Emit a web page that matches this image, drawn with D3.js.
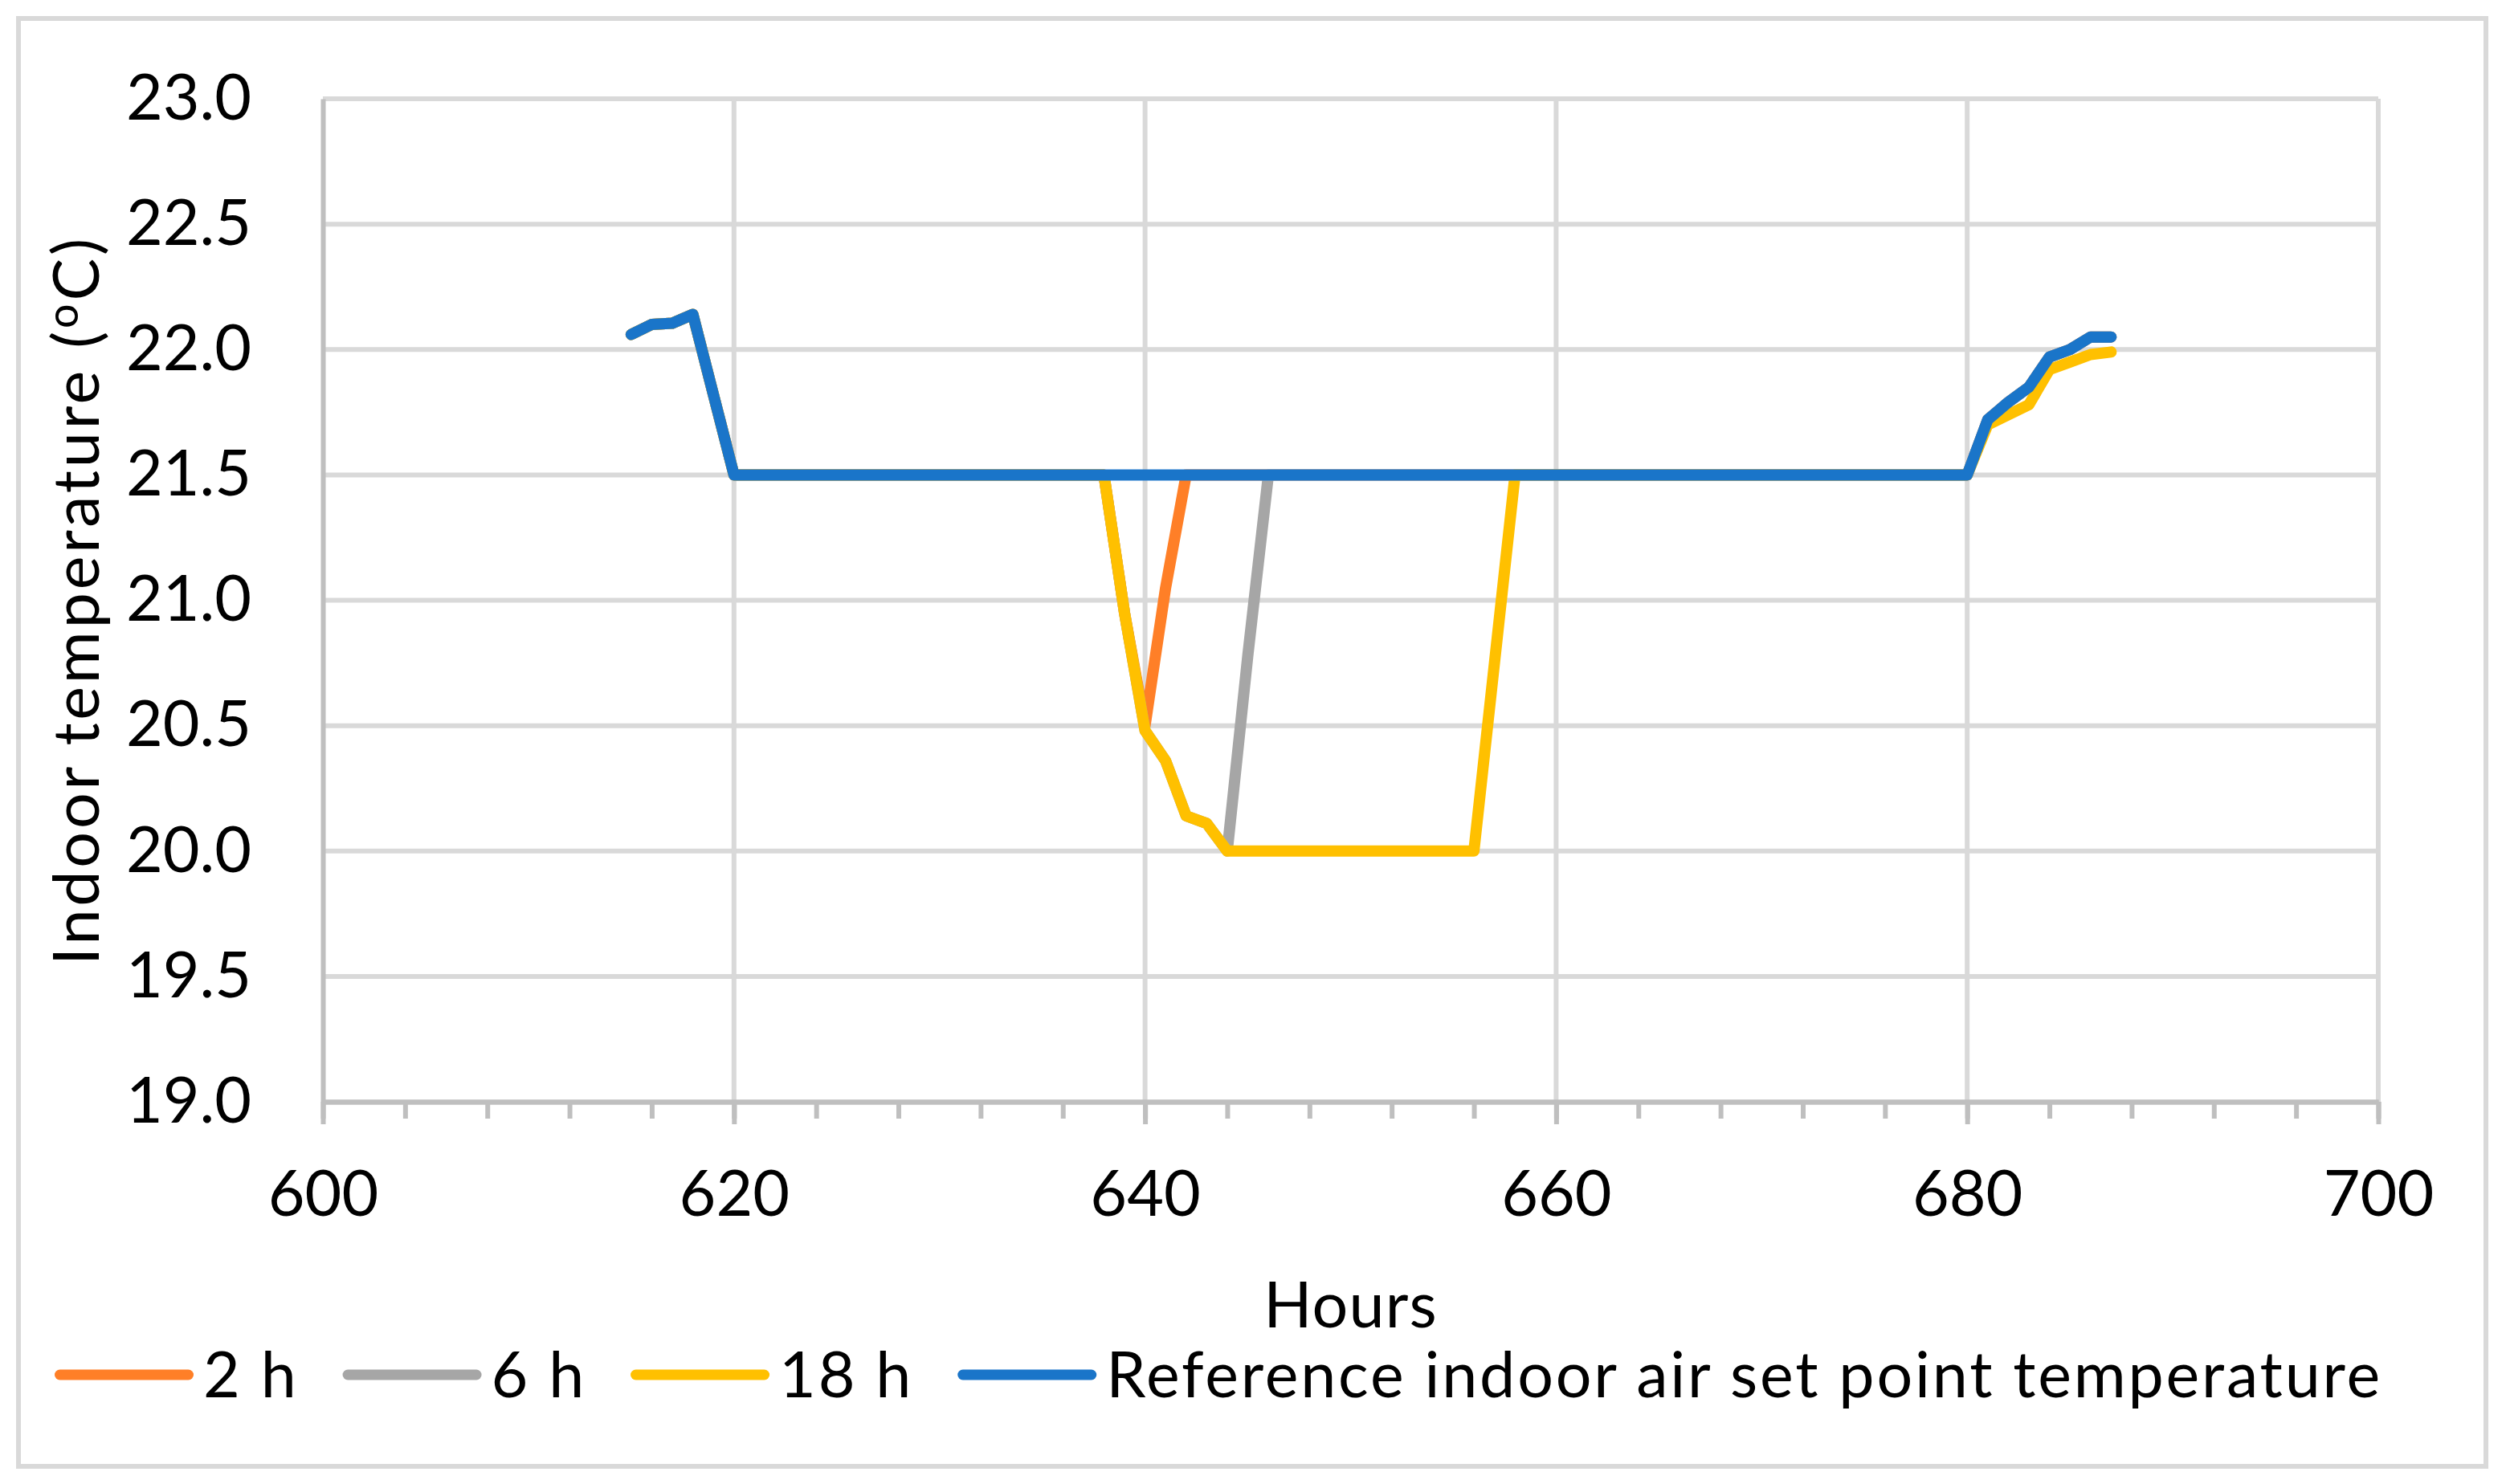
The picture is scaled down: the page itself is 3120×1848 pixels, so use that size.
<!DOCTYPE html>
<html>
<head>
<meta charset="utf-8">
<script src="https://cdn.jsdelivr.net/npm/d3@7"></script>
<style>
    html, body { margin: 0; padding: 0; background: #fff; }
    svg { display: block; }
    text { font-family: Lato, "Open Sans", sans-serif; fill: #000; }
</style>
</head>
<body>
<svg id="chart" width="3120" height="1848"></svg>
<script>

// hourly samples, 615 .. 687
const hours = [
    615, 616, 617, 618, 619,
    620, 621, 622, 623, 624, 625, 626, 627, 628, 629,
    630, 631, 632, 633, 634, 635, 636, 637, 638, 639,
    640, 641, 642, 643, 644, 645, 646, 647, 648, 649,
    650, 651, 652, 653, 654, 655, 656, 657, 658, 659,
    660, 661, 662, 663, 664, 665, 666, 667, 668, 669,
    670, 671, 672, 673, 674, 675, 676, 677, 678, 679,
    680, 681, 682, 683, 684, 685, 686, 687
];

const temp2h = [
    22.06, 22.10, 22.105, 22.14, 21.82,
    21.5, 21.5, 21.5, 21.5, 21.5, 21.5, 21.5, 21.5, 21.5, 21.5,
    21.5, 21.5, 21.5, 21.5, 21.5, 21.5, 21.5, 21.5, 21.5, 20.95,
    20.5, 21.05, 21.5, 21.5, 21.5, 21.5, 21.5, 21.5, 21.5, 21.5,
    21.5, 21.5, 21.5, 21.5, 21.5, 21.5, 21.5, 21.5, 21.5, 21.5,
    21.5, 21.5, 21.5, 21.5, 21.5, 21.5, 21.5, 21.5, 21.5, 21.5,
    21.5, 21.5, 21.5, 21.5, 21.5, 21.5, 21.5, 21.5, 21.5, 21.5,
    21.5, 21.72, 21.79, 21.85, 21.97, 22.00, 22.05, 22.05
];

const temp6h = [
    22.06, 22.10, 22.105, 22.14, 21.82,
    21.5, 21.5, 21.5, 21.5, 21.5, 21.5, 21.5, 21.5, 21.5, 21.5,
    21.5, 21.5, 21.5, 21.5, 21.5, 21.5, 21.5, 21.5, 21.5, 20.95,
    20.48, 20.36, 20.14, 20.11, 20.0, 20.78, 21.5, 21.5, 21.5, 21.5,
    21.5, 21.5, 21.5, 21.5, 21.5, 21.5, 21.5, 21.5, 21.5, 21.5,
    21.5, 21.5, 21.5, 21.5, 21.5, 21.5, 21.5, 21.5, 21.5, 21.5,
    21.5, 21.5, 21.5, 21.5, 21.5, 21.5, 21.5, 21.5, 21.5, 21.5,
    21.5, 21.72, 21.79, 21.85, 21.97, 22.00, 22.05, 22.05
];

const temp18h = [
    22.06, 22.10, 22.105, 22.14, 21.82,
    21.5, 21.5, 21.5, 21.5, 21.5, 21.5, 21.5, 21.5, 21.5, 21.5,
    21.5, 21.5, 21.5, 21.5, 21.5, 21.5, 21.5, 21.5, 21.5, 20.95,
    20.48, 20.36, 20.14, 20.11, 20.0, 20.0, 20.0, 20.0, 20.0, 20.0,
    20.0, 20.0, 20.0, 20.0, 20.0, 20.0, 20.0, 20.75, 21.5, 21.5,
    21.5, 21.5, 21.5, 21.5, 21.5, 21.5, 21.5, 21.5, 21.5, 21.5,
    21.5, 21.5, 21.5, 21.5, 21.5, 21.5, 21.5, 21.5, 21.5, 21.5,
    21.5, 21.70, 21.74, 21.78, 21.92, 21.95, 21.98, 21.99
];

const tempRef = [
    22.06, 22.10, 22.105, 22.14, 21.82,
    21.5, 21.5, 21.5, 21.5, 21.5, 21.5, 21.5, 21.5, 21.5, 21.5,
    21.5, 21.5, 21.5, 21.5, 21.5, 21.5, 21.5, 21.5, 21.5, 21.5,
    21.5, 21.5, 21.5, 21.5, 21.5, 21.5, 21.5, 21.5, 21.5, 21.5,
    21.5, 21.5, 21.5, 21.5, 21.5, 21.5, 21.5, 21.5, 21.5, 21.5,
    21.5, 21.5, 21.5, 21.5, 21.5, 21.5, 21.5, 21.5, 21.5, 21.5,
    21.5, 21.5, 21.5, 21.5, 21.5, 21.5, 21.5, 21.5, 21.5, 21.5,
    21.5, 21.72, 21.79, 21.85, 21.97, 22.00, 22.05, 22.05
];

const seriesNames = ['2 h', '6 h', '18 h', 'Reference indoor air set point temperature'];
const seriesValues = [temp2h, temp6h, temp18h, tempRef];
const seriesColors = ['#ff7f27', '#a6a6a6', '#ffc000', '#1a75c9'];

const xTicks = [600, 620, 640, 660, 680, 700];
const xMinorTicks = d3.range(600, 701, 4);
const yTicks = [19.0, 19.5, 20.0, 20.5, 21.0, 21.5, 22.0, 22.5, 23.0];

const fontSize = 79;

let svg = d3.select('#chart');

let plot = {left: 402, right: 2961, top: 123, bottom: 1372};

let x = d3.scaleLinear().domain([600, 700]).range([plot.left, plot.right]);
let y = d3.scaleLinear().domain([19, 23]).range([plot.bottom, plot.top]);

// outer chart border
svg.append('rect')
    .attr('x', 23)
    .attr('y', 23)
    .attr('width', 3072)
    .attr('height', 1803)
    .attr('fill', '#fff')
    .attr('stroke', '#d9d9d9')
    .attr('stroke-width', 6);

// grid
let grid = svg.append('g');

grid.selectAll('line.h')
    .data(yTicks.filter(function (d) { return d > 19; }))
    .enter()
    .append('line')
    .attr('class', 'h')
    .attr('x1', plot.left)
    .attr('x2', plot.right)
    .attr('y1', y)
    .attr('y2', y)
    .attr('stroke', '#d9d9d9')
    .attr('stroke-width', 6);

grid.selectAll('line.v')
    .data(xTicks.filter(function (d) { return d > 600; }))
    .enter()
    .append('line')
    .attr('class', 'v')
    .attr('x1', x)
    .attr('x2', x)
    .attr('y1', plot.top)
    .attr('y2', plot.bottom)
    .attr('stroke', '#d9d9d9')
    .attr('stroke-width', 6);

// axes
let xMinorAxis = d3.axisBottom(x)
    .tickValues(xMinorTicks)
    .tickSize(21)
    .tickSizeOuter(0)
    .tickFormat('');

let xAxis = d3.axisBottom(x)
    .tickValues(xTicks)
    .tickSize(28)
    .tickSizeOuter(0)
    .tickPadding(58)
    .tickFormat(d3.format('d'));

let yAxis = d3.axisLeft(y)
    .tickValues(yTicks)
    .tickSize(0)
    .tickSizeOuter(0)
    .tickPadding(89)
    .tickFormat(d3.format('.1f'));

function styleAxis (g) {
    g.selectAll('path.domain')
        .attr('stroke', '#bfbfbf')
        .attr('stroke-width', 6);
    g.selectAll('.tick line')
        .attr('stroke', '#bfbfbf')
        .attr('stroke-width', 6);
    g.selectAll('.tick text')
        .style('font-family', 'Lato, "Open Sans", sans-serif')
        .style('font-size', fontSize + 'px')
        .attr('fill', '#000');
    g.attr('font-family', null).attr('font-size', null);
}

svg.append('g')
    .attr('transform', 'translate(0,' + plot.bottom + ')')
    .call(xMinorAxis)
    .call(styleAxis);

svg.append('g')
    .attr('transform', 'translate(0,' + plot.bottom + ')')
    .call(xAxis)
    .call(styleAxis);

svg.append('g')
    .attr('transform', 'translate(' + plot.left + ',0)')
    .call(yAxis)
    .call(styleAxis);

// series
let line = d3.line()
    .x(function (d) { return x(d[0]); })
    .y(function (d) { return y(d[1]); });

svg.append('g')
    .selectAll('path')
    .data(seriesValues)
    .enter()
    .append('path')
    .attr('d', function (values) {
        return line(hours.map(function (h, i) { return [h, values[i]]; }));
    })
    .attr('fill', 'none')
    .attr('stroke', function (d, i) { return seriesColors[i]; })
    .attr('stroke-width', 14)
    .attr('stroke-linejoin', 'round')
    .attr('stroke-linecap', 'round');

// axis titles
svg.append('text')
    .attr('x', (plot.left + plot.right) / 2)
    .attr('y', 1653)
    .attr('text-anchor', 'middle')
    .style('font-size', fontSize + 'px')
    .style('letter-spacing', '1.2px')
    .text('Hours');

let yTitle = svg.append('text')
    .attr('transform', 'translate(123,' + ((plot.top + plot.bottom) / 2) + ') rotate(-90)')
    .attr('text-anchor', 'middle')
    .style('font-size', fontSize + 'px')
    .style('letter-spacing', '3.8px');

yTitle.append('tspan').text('Indoor temperature (');
yTitle.append('tspan')
    .attr('dy', -26)
    .style('font-size', Math.round(fontSize * 0.68) + 'px')
    .text('o');
yTitle.append('tspan')
    .attr('dy', 26)
    .text('C)');

// legend
let legend = svg.append('g');
let lineLen = 173, capR = 6.5, textGap = 12, itemGap = 55;

let items = legend.selectAll('g')
    .data(seriesNames)
    .enter()
    .append('g');

items.append('line')
    .attr('x1', capR)
    .attr('x2', lineLen - capR)
    .attr('y1', 0)
    .attr('y2', 0)
    .attr('stroke', function (d, i) { return seriesColors[i]; })
    .attr('stroke-width', 13)
    .attr('stroke-linecap', 'round');

items.append('text')
    .attr('x', lineLen + textGap)
    .attr('dy', '0.36em')
    .style('font-size', fontSize + 'px')
    .style('letter-spacing', '2.8px')
    .text(function (d) { return d; });

let widths = [];
items.each(function () {
    widths.push(d3.select(this).select('text').node().getComputedTextLength());
});

let total = d3.sum(widths) + widths.length * (lineLen + textGap) + (widths.length - 1) * itemGap;
let cursor = 1517 - total / 2;

items.attr('transform', function (d, i) {
    let t = 'translate(' + cursor + ',1712)';
    cursor += lineLen + textGap + widths[i] + itemGap;
    return t;
});

</script>
</body>
</html>
